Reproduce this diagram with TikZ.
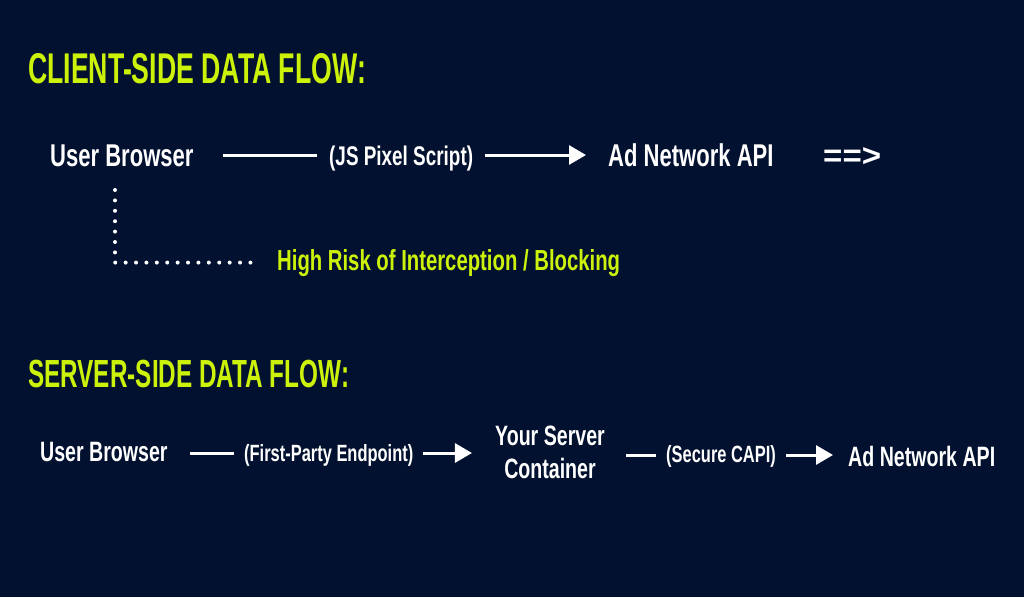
\documentclass[tikz,border=0pt]{standalone}
\usepackage{fontspec}
\usepackage{graphicx}
\usepackage{tikz}
\usetikzlibrary{arrows.meta}
\usetikzlibrary{positioning}
\newfontfamily\condfont[FakeStretch=0.70]{Liberation Sans}
\newfontfamily\headfont[FakeStretch=0.62]{Liberation Sans}
\definecolor{navy}{HTML}{02112F}
\definecolor{lime}{HTML}{CDF20A}
\tikzset{
  hd/.style={inner sep=0pt, anchor=base west, text=lime,
    font=\headfont\bfseries\fontsize{#1}{#1}\selectfont},
  ent/.style={inner sep=0pt, anchor=base west, text=white,
    font=\condfont\bfseries\fontsize{#1}{#1}\selectfont},
  ln/.style={draw=white, line width=3pt},
  arr/.style={ln, -{Triangle[length=17pt,width=19pt]}},
  dots/.style={draw=white, line width=4pt, line cap=round, dash pattern=on 0pt off 10.4pt}
}
\begin{document}
\begin{tikzpicture}[x=1pt, y=-1pt]
      \fill [navy] (0,0) rectangle (1024,597);
      % client side
      \node [hd=43] (t1) at (28, 83) {CLIENT-SIDE DATA FLOW:};
      \node [ent=31.5] (ub1) at (50, 166) {User Browser};
      \node [ent=27] (js) at (329, 165.5) {(JS Pixel Script)};
      \node [ent=31.5] (an1) at (608, 166) {Ad Network API};
      \node [ent=31.5] (cont) at (823, 166) {\scalebox{1.5}[1]{==>}};
      \node [ent=29, text=lime] (risk) at (277, 270) {High Risk of Interception / Blocking};

      \coordinate (r1) at ([yshift=11pt]ub1.base east);
      \draw [ln, shorten <=29pt, shorten >=12pt] (r1) -- (r1 -| js.west);
      \draw [arr, shorten <=12pt, shorten >=22pt] (r1 -| js.east) -- (r1 -| an1.west);
      \draw [dots] ([xshift=65pt,yshift=-24pt]ub1.base west) |- ([xshift=-17pt]risk.west);

      % server side
      \node [hd=39.2] (t2) at (28, 387) {SERVER-SIDE DATA FLOW:};
      \node [ent=28] (ub2) at (40, 461.5) {User Browser};
      \node [ent=23.5] (fp) at (244, 461) {(First-Party Endpoint)};
      \node [ent=28, anchor=base, align=center, font=\condfont\bfseries\fontsize{28}{33}\selectfont] (sc) at (550, 478) {Your Server\\Container};
      \node [ent=23.5] (capi) at (666, 462) {(Secure CAPI)};
      \node [ent=28] (an2) at (848, 466) {Ad Network API};

      \coordinate (m1) at ([yshift=8.5pt]ub2.base east);
      \coordinate (m2) at ([yshift=7pt]capi.base west);
      \draw [ln, shorten <=22pt, shorten >=10pt] (m1) -- (m1 -| fp.west);
      \draw [arr, shorten <=10pt, shorten >=23pt] (m1 -| fp.east) -- (m1 -| sc.west);
      \draw [ln, shorten <=21pt, shorten >=10pt] (m2 -| sc.east) -- (m2);
      \draw [arr, shorten <=10pt, shorten >=15pt] (m2 -| capi.east) -- (m2 -| an2.west);
\end{tikzpicture}
\end{document}
